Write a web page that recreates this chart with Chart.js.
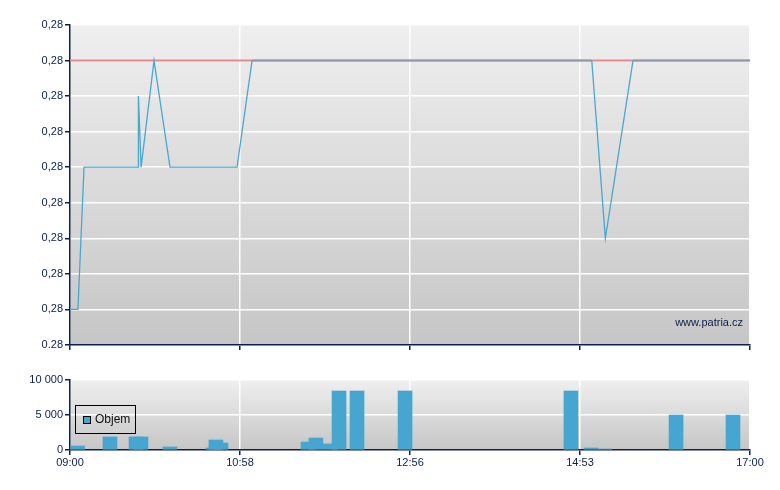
<!DOCTYPE html>
<html>
<head>
<meta charset="utf-8">
<script src="https://cdn.jsdelivr.net/npm/chart.js@4"></script>
<style>
  body { margin: 0; background: #fff; }
  #wrap { position: relative; width: 780px; height: 490px; font-family: 'Liberation Sans', Arial, sans-serif; }
  #top { position: absolute; left: 0; top: 0; width: 780px; height: 360px; }
  #bottom { position: absolute; left: 0; top: 360px; width: 780px; height: 120px; }
  #mark { position: absolute; right: 37px; top: 316px; font-size: 11px; color: #0a2050; }
  #legend { position: absolute; left: 75px; top: 405px; width: 59px; height: 27px; border: 1px solid #000; font-size: 12px; color: #111; }
  #legend span.box { position: absolute; left: 7px; top: 10px; width: 6px; height: 6px; background: #46a6cf; border: 1px solid #000; }
  #legend span.txt { position: absolute; left: 19px; top: 6px; }
</style>
</head>
<body>
<div id="wrap">
  <div id="top"><canvas id="priceChart"></canvas></div>
  <div id="bottom"><canvas id="volChart"></canvas></div>
  <div id="mark">www.patria.cz</div>
  <div id="legend"><span class="box"></span><span class="txt">Objem</span></div>
</div>
<script>
// minutes after 09:00
const timeTicks = [0, 120, 240, 360, 480];
const timeTickLabels = ['09:00', '10:58', '12:56', '14:53', '17:00'];

const priceTicks = [0.2760, 0.2765, 0.2770, 0.2775, 0.2780, 0.2785, 0.2790, 0.2795, 0.2800, 0.2805];
const priceTickLabels = ['0.28', '0,28', '0,28', '0,28', '0,28', '0,28', '0,28', '0,28', '0,28', '0,28'];

const priceTimes = [0, 5.6, 9.9, 48.2, 48.3, 50.2, 59.3, 70.6, 117.9, 128.5, 368.3, 377.9, 397.4, 480];
const priceValues = [0.2765, 0.2765, 0.2785, 0.2785, 0.2795, 0.2785, 0.2800, 0.2785, 0.2785, 0.2800, 0.2800, 0.2775, 0.2800, 0.2800];

const refTimes = [0, 480];
const refValues = [0.2800, 0.2800];

const volTimes = [5.3, 28.2, 46.6, 50.1, 70.6, 101, 106.6, 103, 168, 173.6, 183.5, 189.9, 202.6, 236.5, 353.6, 367.8, 377.6, 427.8, 468];
const volValues = [570, 1860, 1860, 1860, 430, 290, 1000, 1430, 1140, 1710, 860, 8430, 8430, 8430, 8430, 290, 140, 5000, 5000];

const volTickLabels = ['0', '5 000', '10 000'];

Chart.defaults.font.family = "'Liberation Sans', Arial, sans-serif";
Chart.defaults.font.size = 11;
Chart.defaults.color = '#0a2050';

const navy = '#0a2050';
const blue = 'rgb(72,168,208)';
const mixed = 'rgb(148,153,176)'; // blue lying on the red reference line

const bgPlugin = {
  id: 'bg',
  beforeDraw(chart) {
    const a = chart.chartArea;
    const c = chart.ctx;
    const g = c.createLinearGradient(0, a.top, 0, a.bottom);
    g.addColorStop(0, '#efefef');
    g.addColorStop(1, '#c6c6c6');
    c.save();
    c.fillStyle = g;
    c.fillRect(a.left, a.top, a.right - a.left, a.bottom - a.top);
    c.restore();
  }
};

function xy(xs, ys) {
  return xs.map((x, i) => ({ x: x, y: ys[i] }));
}

const priceChart = new Chart(document.getElementById('priceChart'), {
  type: 'line',
  data: {
    datasets: [{
      data: xy(priceTimes, priceValues),
      borderColor: blue,
      borderWidth: 1.3,
      pointRadius: 0,
      tension: 0,
      segment: {
        borderColor: s => (s.p0.parsed.y === refValues[0] && s.p1.parsed.y === refValues[0]) ? mixed : blue,
        borderWidth: s => (s.p0.parsed.y === refValues[0] && s.p1.parsed.y === refValues[0]) ? 2 : 1.3
      }
    }, {
      data: xy(refTimes, refValues),
      borderColor: 'rgb(228,138,140)',
      borderWidth: 2,
      pointRadius: 0
    }]
  },
  options: {
    responsive: true,
    maintainAspectRatio: false,
    animation: false,
    layout: { padding: { top: 25, right: 30, left: 0, bottom: 0 } },
    plugins: { legend: { display: false }, tooltip: { enabled: false } },
    scales: {
      x: {
        type: 'linear',
        min: 0,
        max: 480,
        afterBuildTicks: s => { s.ticks = timeTicks.map(v => ({ value: v })); },
        afterFit: s => { s.height = 15; },
        ticks: { display: false },
        grid: { color: '#ffffff', lineWidth: 1.5, tickColor: navy, tickLength: 5 },
        border: { color: navy, width: 1.5 }
      },
      y: {
        min: 0.2760,
        max: 0.2805,
        afterBuildTicks: s => { s.ticks = priceTicks.map(v => ({ value: v })); },
        afterFit: s => { s.width = 70; },
        ticks: {
          padding: 2,
          callback: (v, i) => priceTickLabels[i]
        },
        grid: { color: '#ffffff', lineWidth: 1.5, tickColor: navy, tickLength: 5 },
        border: { color: navy, width: 1.5 }
      }
    }
  },
  plugins: [bgPlugin]
});

const volChart = new Chart(document.getElementById('volChart'), {
  type: 'bar',
  data: {
    datasets: [{
      label: 'Objem',
      data: xy(volTimes, volValues),
      backgroundColor: '#46a6cf',
      barThickness: 14
    }]
  },
  options: {
    responsive: true,
    maintainAspectRatio: false,
    animation: false,
    layout: { padding: { top: 20, right: 30, left: 0, bottom: 0 } },
    plugins: { legend: { display: false }, tooltip: { enabled: false } },
    scales: {
      x: {
        type: 'linear',
        min: 0,
        max: 480,
        offset: false,
        afterBuildTicks: s => { s.ticks = timeTicks.map(v => ({ value: v })); },
        afterFit: s => { s.height = 30; },
        ticks: {
          padding: 1,
          maxRotation: 0,
          callback: (v, i) => timeTickLabels[i]
        },
        grid: { color: '#ffffff', lineWidth: 1.5, tickColor: navy, tickLength: 5, offset: false },
        border: { color: navy, width: 1.5 }
      },
      y: {
        min: 0,
        max: 10000,
        afterBuildTicks: s => { s.ticks = [0, 5000, 10000].map(v => ({ value: v })); },
        afterFit: s => { s.width = 70; },
        ticks: {
          padding: 2,
          callback: (v, i) => volTickLabels[i]
        },
        grid: { color: '#ffffff', lineWidth: 1.5, tickColor: navy, tickLength: 5 },
        border: { color: navy, width: 1.5 }
      }
    }
  },
  plugins: [bgPlugin]
});
</script>
</body>
</html>
